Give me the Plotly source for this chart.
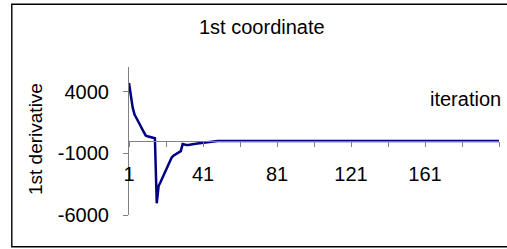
import plotly.graph_objects as go

# Data
iterations = list(range(1, 202))
derivative = [
    4700, 3500, 2700, 2150, 1900, 1600, 1300, 1000, 700, 450,
    380, 340, 310, 280, 220, -5050, -3650, -3350, -3000, -2650,
    -2300, -1950, -1650, -1350, -1200, -1100, -1000, -900, -820, -250,
    -310, -320, -320, -310, -290, -260, -230, -200, -180, -150,
    -120, -100, -80, -60, -40, -30, -20, -10, -5, 0,
    0, 0, 0, 0, 0, 0, 0, 0, 0, 0,
    0, 0, 0, 0, 0, 0, 0, 0, 0, 0,
    0, 0, 0, 0, 0, 0, 0, 0, 0, 0,
    0, 0, 0, 0, 0, 0, 0, 0, 0, 0,
    0, 0, 0, 0, 0, 0, 0, 0, 0, 0,
    0, 0, 0, 0, 0, 0, 0, 0, 0, 0,
    0, 0, 0, 0, 0, 0, 0, 0, 0, 0,
    0, 0, 0, 0, 0, 0, 0, 0, 0, 0,
    0, 0, 0, 0, 0, 0, 0, 0, 0, 0,
    0, 0, 0, 0, 0, 0, 0, 0, 0, 0,
    0, 0, 0, 0, 0, 0, 0, 0, 0, 0,
    0, 0, 0, 0, 0, 0, 0, 0, 0, 0,
    0, 0, 0, 0, 0, 0, 0, 0, 0, 0,
    0, 0, 0, 0, 0, 0, 0, 0, 0, 0,
    0, 0, 0, 0, 0, 0, 0, 0, 0, 0,
    0,
]
y_ticks = [-6000, -1000, 4000]
x_label_ticks = [1, 41, 81, 121, 161]

title_text = "1st coordinate"
y_title = "1st derivative"
x_title = "iteration"

FONT = "Arial, Liberation Sans, sans-serif"
W, H = 507, 249
L, R, T, B = 129, 8, 67, 34
PW, PH = W - L - R, H - T - B


def px(xp):
    return (xp - L) / PW


def py(yp):
    return (H - B - yp) / PH


fig = go.Figure()
fig.add_trace(go.Scatter(
    x=iterations, y=derivative, mode="lines",
    line=dict(color="#000080", width=2.5),
    xaxis="x", yaxis="y", showlegend=False, hoverinfo="skip",
))
# invisible copy so that the label axis is drawn
fig.add_trace(go.Scatter(
    x=iterations, y=derivative, mode="lines", opacity=0,
    xaxis="x2", yaxis="y", showlegend=False, hoverinfo="skip",
))

fig.update_layout(
    width=W, height=H,
    margin=dict(l=L, r=R, t=T, b=B),
    paper_bgcolor="white", plot_bgcolor="white",
    font=dict(family=FONT, size=20, color="black"),
    xaxis=dict(
        range=[1, 201], anchor="free", position=0.5,
        showline=True, linecolor="#808080", linewidth=1.2,
        ticks="outside", ticklen=5, tickcolor="#808080", tickwidth=1.2,
        tick0=1, dtick=20, showticklabels=False,
        showgrid=False, zeroline=False,
    ),
    xaxis2=dict(
        range=[1, 201], overlaying="x", anchor="free", position=py(160),
        showline=False, ticks="", tickmode="array", tickvals=x_label_ticks,
        ticktext=[str(v) for v in x_label_ticks],
        tickfont=dict(size=20), showgrid=False, zeroline=False,
    ),
    yaxis=dict(
        range=[-6000, 6000],
        showline=True, linecolor="#808080", linewidth=1.2,
        ticks="outside", ticklen=5, tickcolor="#808080", tickwidth=1.2,
        tickmode="array", tickvals=y_ticks,
        ticktext=[str(v) for v in y_ticks],
        tickfont=dict(size=20), ticklabelstandoff=10,
        showgrid=False, zeroline=False,
    ),
    shapes=[dict(
        type="rect", xref="paper", yref="paper",
        x0=px(11.8), x1=px(520), y0=py(246.8), y1=py(4.3),
        line=dict(color="black", width=1.4), fillcolor="rgba(0,0,0,0)",
    )],
    annotations=[
        dict(text=title_text, xref="paper", yref="paper", x=px(262), y=py(27),
             showarrow=False, xanchor="center", yanchor="middle",
             font=dict(size=20, family=FONT)),
        dict(text=y_title, xref="paper", yref="paper", x=px(35), y=py(139),
             showarrow=False, xanchor="center", yanchor="middle", textangle=-90,
             font=dict(size=19, family=FONT)),
        dict(text=x_title, xref="paper", yref="paper", x=px(465), y=py(99),
             showarrow=False, xanchor="center", yanchor="middle",
             font=dict(size=20, family=FONT)),
    ],
)

fig.write_html(
    "out.html",
    config={"displayModeBar": False},
    post_script="document.body.style.margin='0';document.body.style.overflow='hidden';",
)
